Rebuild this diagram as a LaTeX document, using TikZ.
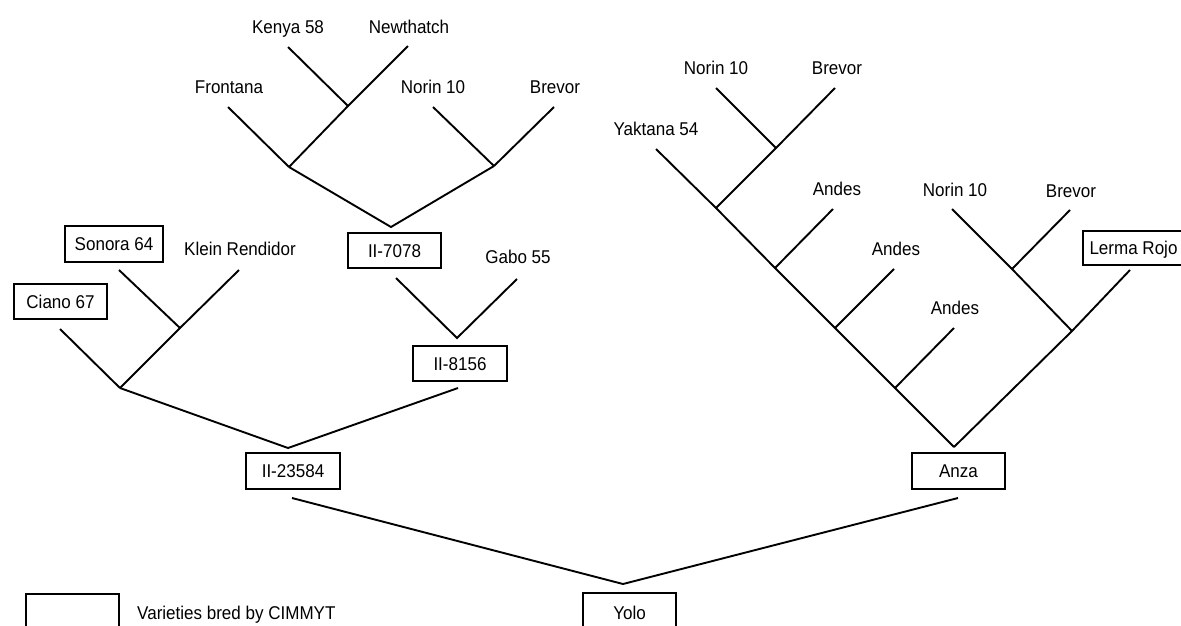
\documentclass[tikz,border=0pt]{standalone}
\usepackage{fontspec}
\setmainfont{Liberation Sans}[FakeStretch=0.92]
\begin{document}
\begin{tikzpicture}[x=1pt,y=-1pt,
  lbl/.style={anchor=base, font=\fontsize{18.5}{21}\selectfont, inner sep=0pt},
  var/.style={draw, line width=1.9pt, minimum width=93pt, minimum height=35pt,
    text height=13pt, text depth=0pt, inner sep=0pt, font=\fontsize{18.5}{21}\selectfont},
  link/.style={line width=1.9pt, line join=miter}]
\useasboundingbox (0,0) rectangle (1181,625);
\clip (0,0) rectangle (1181,625);
\fill[white] (0,0) rectangle (1181,625);

% ---- labels (left tree)
\node[lbl] (kenya) at (288,33.5) {Kenya 58};
\node[lbl] (newth) at (409,33.5) {Newthatch};
\node[lbl] (front) at (229,93.5) {Frontana};
\node[lbl] (norinA) at (433,93.5) {Norin 10};
\node[lbl] (brevA) at (555,93.5) {Brevor};
\node[var] (i7078) at (394.5,250.5) {II-7078};
\node[lbl] (gabo) at (518,263.5) {Gabo 55};
\node[var, minimum width=94pt] (i8156) at (460,363.5) {II-8156};
\node[var, minimum width=98pt, minimum height=36pt] (sonora) at (114,244) {Sonora 64};
\node[lbl] (klein) at (240,255.5) {Klein Rendidor};
\node[var] (ciano) at (60.5,301.5) {Ciano 67};
\node[var, minimum width=94pt, minimum height=36pt] (i23584) at (293,471) {II-23584};
\node[var, minimum height=36pt] (anza) at (958.5,471) {Anza};
\node[var, minimum height=40pt] (yolo) at (629.5,613) {Yolo};
\node[var, minimum height=40pt] (legbox) at (72.5,614) {};
\node[lbl, anchor=base west] (legtext) at (137,619.5) {Varieties bred by CIMMYT};

% ---- labels (right tree)
\node[lbl] (norinB) at (716,74.5) {Norin 10};
\node[lbl] (brevB) at (837,74.5) {Brevor};
\node[lbl] (yak) at (656,135.5) {Yaktana 54};
\node[lbl] (andesA) at (837,195.5) {Andes};
\node[lbl] (andesB) at (896,255.5) {Andes};
\node[lbl] (andesC) at (955,314.5) {Andes};
\node[lbl] (norinC) at (955,196.5) {Norin 10};
\node[lbl] (brevC) at (1071,197.5) {Brevor};
\node[var, minimum width=101pt, minimum height=34pt] (lerma) at (1133.5,248) {Lerma Rojo};

% ---- coordinates, left tree
\coordinate (kt) at (288,47);
\coordinate (nt) at (408,46);
\coordinate (j1) at (348,106);
\coordinate (ft) at (228,107);
\coordinate (j2) at (289,167);
\coordinate (n1t) at (433,107);
\coordinate (b1t) at (554,107);
\coordinate (j3) at (494,166);
\coordinate (a1) at (391,227);
\coordinate (i7t) at (396,278);
\coordinate (gt) at (517,279);
\coordinate (a2) at (457,338);
\coordinate (i8b) at (458,388);
\coordinate (st) at (119,270);
\coordinate (krt) at (239,270);
\coordinate (j4) at (180,328);
\coordinate (ct) at (60,329);
\coordinate (j5) at (120,388);
\coordinate (a3) at (288,448);
\coordinate (i23b) at (292,498);
\coordinate (ya) at (623,584);
\coordinate (anb) at (958,498);

% ---- coordinates, right tree
\coordinate (r1) at (716,88);
\coordinate (r2) at (835,88);
\coordinate (rj1) at (776,148);
\coordinate (yt) at (656,149);
\coordinate (rj2) at (716,208);
\coordinate (an1) at (833,209);
\coordinate (rj3) at (775,268);
\coordinate (an2) at (894,269);
\coordinate (rj4) at (835,328);
\coordinate (an3) at (954,328);
\coordinate (rj5) at (895,388);
\coordinate (aa) at (954,447);
\coordinate (n2) at (952,209);
\coordinate (b2) at (1070,210);
\coordinate (rj6) at (1012,269);
\coordinate (lt) at (1130,270);
\coordinate (rj7) at (1072,331);

% ---- connectors, left tree
\draw[link] (kt) -- (j1);
\draw[link] (nt) -- (j1) -- (j2);
\draw[link] (ft) -- (j2);
\draw[link] (n1t) -- (j3);
\draw[link] (b1t) -- (j3);
\draw[link] (j2) -- (a1) -- (j3);
\draw[link] (i7t) -- (a2) -- (gt);
\draw[link] (st) -- (j4);
\draw[link] (krt) -- (j4) -- (j5);
\draw[link] (ct) -- (j5);
\draw[link] (j5) -- (a3) -- (i8b);
\draw[link] (i23b) -- (ya) -- (anb);

% ---- connectors, right tree
\draw[link] (r1) -- (rj1);
\draw[link] (r2) -- (rj1) -- (rj2);
\draw[link] (yt) -- (rj2) -- (rj3) -- (rj4) -- (rj5) -- (aa);
\draw[link] (an1) -- (rj3);
\draw[link] (an2) -- (rj4);
\draw[link] (an3) -- (rj5);
\draw[link] (n2) -- (rj6) -- (rj7);
\draw[link] (b2) -- (rj6);
\draw[link] (lt) -- (rj7) -- (aa);
\end{tikzpicture}
\end{document}
